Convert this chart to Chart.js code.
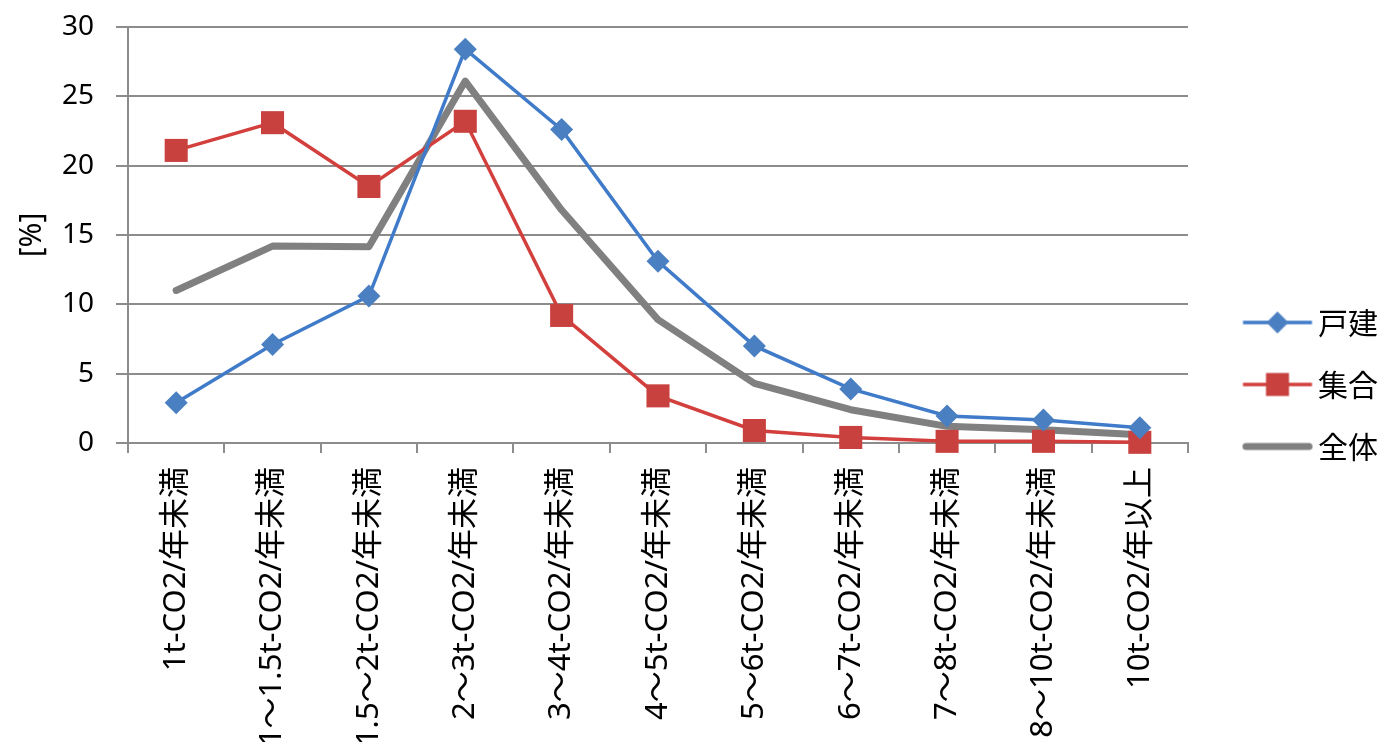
<!DOCTYPE html>
<html><head><meta charset="utf-8">
<script src="https://cdn.jsdelivr.net/npm/chart.js@4.4.1/dist/chart.umd.min.js"></script>
<style>html,body{margin:0;padding:0;background:#fff;overflow:hidden}#wrap{width:1388px;height:754px;position:relative;background:#fff}</style>
</head><body><div id="wrap"><canvas id="c" width="1388" height="754"></canvas></div>
<script>
const categories = ['1t-CO2/年未満','1～1.5t-CO2/年未満','1.5～2t-CO2/年未満','2～3t-CO2/年未満','3～4t-CO2/年未満','4～5t-CO2/年未満','5～6t-CO2/年未満','6～7t-CO2/年未満','7～8t-CO2/年未満','8～10t-CO2/年未満','10t-CO2/年以上'];
const detached  = [2.9, 7.1, 10.6, 28.4, 22.6, 13.1, 7.0, 3.9, 1.95, 1.65, 1.1];
const apartment = [21.1, 23.1, 18.5, 23.2, 9.2, 3.4, 0.9, 0.4, 0.12, 0.12, 0.05];
const overall   = [11.0, 14.2, 14.15, 26.1, 16.8, 8.9, 4.3, 2.4, 1.2, 0.95, 0.6];
const seriesNames = ['戸建', '集合', '全体'];
const yMin = 0, yMax = 30, yStep = 5;
const yTitle = '[%]';

const GRID = '#8c8c8c';
const BLUE_LINE = '#3f7bc9', BLUE_PT = '#4a7fc1';
const RED_LINE = '#d23f3c', RED_PT = '#c8413e';
const GRAY = '#808080';

function makeSymbol(kind) {
  const c = document.createElement('canvas');
  c.width = 104; c.height = 34;
  const g = c.getContext('2d');
  const y = 17, x0 = 33.5, x1 = 102.5, xm = (x0 + x1) / 2;
  g.lineCap = 'butt';
  if (kind === 0) {
    g.strokeStyle = BLUE_LINE; g.lineWidth = 3.5;
    g.beginPath(); g.moveTo(x0, y); g.lineTo(x1, y); g.stroke();
    g.fillStyle = BLUE_PT;
    g.beginPath(); g.moveTo(xm, y - 11); g.lineTo(xm + 11, y); g.lineTo(xm, y + 11); g.lineTo(xm - 11, y); g.closePath(); g.fill();
  } else if (kind === 1) {
    g.strokeStyle = RED_LINE; g.lineWidth = 3.5;
    g.beginPath(); g.moveTo(x0, y); g.lineTo(x1, y); g.stroke();
    g.fillStyle = RED_PT;
    g.fillRect(xm - 11.5, y - 11.5, 23, 23);
  } else {
    g.strokeStyle = GRAY; g.lineWidth = 7; g.lineCap = 'round';
    g.beginPath(); g.moveTo(x0 + 3, y); g.lineTo(x1 - 3, y); g.stroke();
  }
  return c;
}
const symbols = [makeSymbol(0), makeSymbol(1), makeSymbol(2)];

new Chart(document.getElementById('c'), {
  type: 'line',
  data: {
    labels: categories,
    datasets: [
      { label: seriesNames[0], data: detached, borderColor: BLUE_LINE, backgroundColor: BLUE_PT,
        borderWidth: 3.5, pointStyle: 'rectRot', pointRadius: 11.5, pointBorderWidth: 0,
        pointBackgroundColor: BLUE_PT, tension: 0, clip: false },
      { label: seriesNames[1], data: apartment, borderColor: RED_LINE, backgroundColor: RED_PT,
        borderWidth: 3.5, pointStyle: 'rect', pointRadius: 16.3, pointBorderWidth: 0,
        pointBackgroundColor: RED_PT, tension: 0, clip: false },
      { label: seriesNames[2], data: overall, borderColor: GRAY, backgroundColor: GRAY,
        borderWidth: 7, pointRadius: 0, borderJoinStyle: 'round', borderCapStyle: 'round',
        tension: 0, clip: false }
    ]
  },
  options: {
    responsive: false,
    animation: false,
    devicePixelRatio: 1,
    layout: { padding: { top: 27, bottom: 12, left: 0, right: 0 } },
    plugins: {
      tooltip: { enabled: false },
      legend: {
        position: 'right',
        labels: {
          usePointStyle: true,
          pointStyleWidth: 83,
          padding: 32,
          color: '#000',
          font: { family: "'Noto Sans CJK JP', sans-serif", size: 30 },
          generateLabels(chart) {
            const items = Chart.defaults.plugins.legend.labels.generateLabels(chart);
            items.forEach((it, i) => { it.pointStyle = symbols[i]; });
            return items;
          }
        }
      }
    },
    scales: {
      x: {
        offset: true,
        grid: { offset: true, drawOnChartArea: false, drawTicks: true, tickLength: 10, color: GRID, lineWidth: 2 },
        border: { display: true, color: GRID, width: 2 },
        ticks: {
          autoSkip: false, minRotation: 90, maxRotation: 90, padding: 14, color: '#000',
          font: { family: "'Noto Sans', 'Noto Sans CJK JP', sans-serif", size: 31 }
        },
        afterFit(axis) { axis.height = 299; }
      },
      y: {
        min: yMin, max: yMax,
        grid: { color: GRID, lineWidth: 2, tickLength: 12, drawTicks: true },
        border: { display: true, color: GRID, width: 2 },
        ticks: {
          stepSize: yStep, padding: 22, color: '#000',
          font: { family: "'Noto Sans', sans-serif", size: 28 }
        },
        title: {
          display: true, text: yTitle, color: '#000', padding: { top: 14, bottom: 0 },
          font: { family: "'Noto Sans', sans-serif", size: 30 }
        },
        afterFit(axis) { axis.width = 128; axis.paddingTop = 0; axis.paddingBottom = 0; }
      }
    }
  }
});
</script>
</body></html>
